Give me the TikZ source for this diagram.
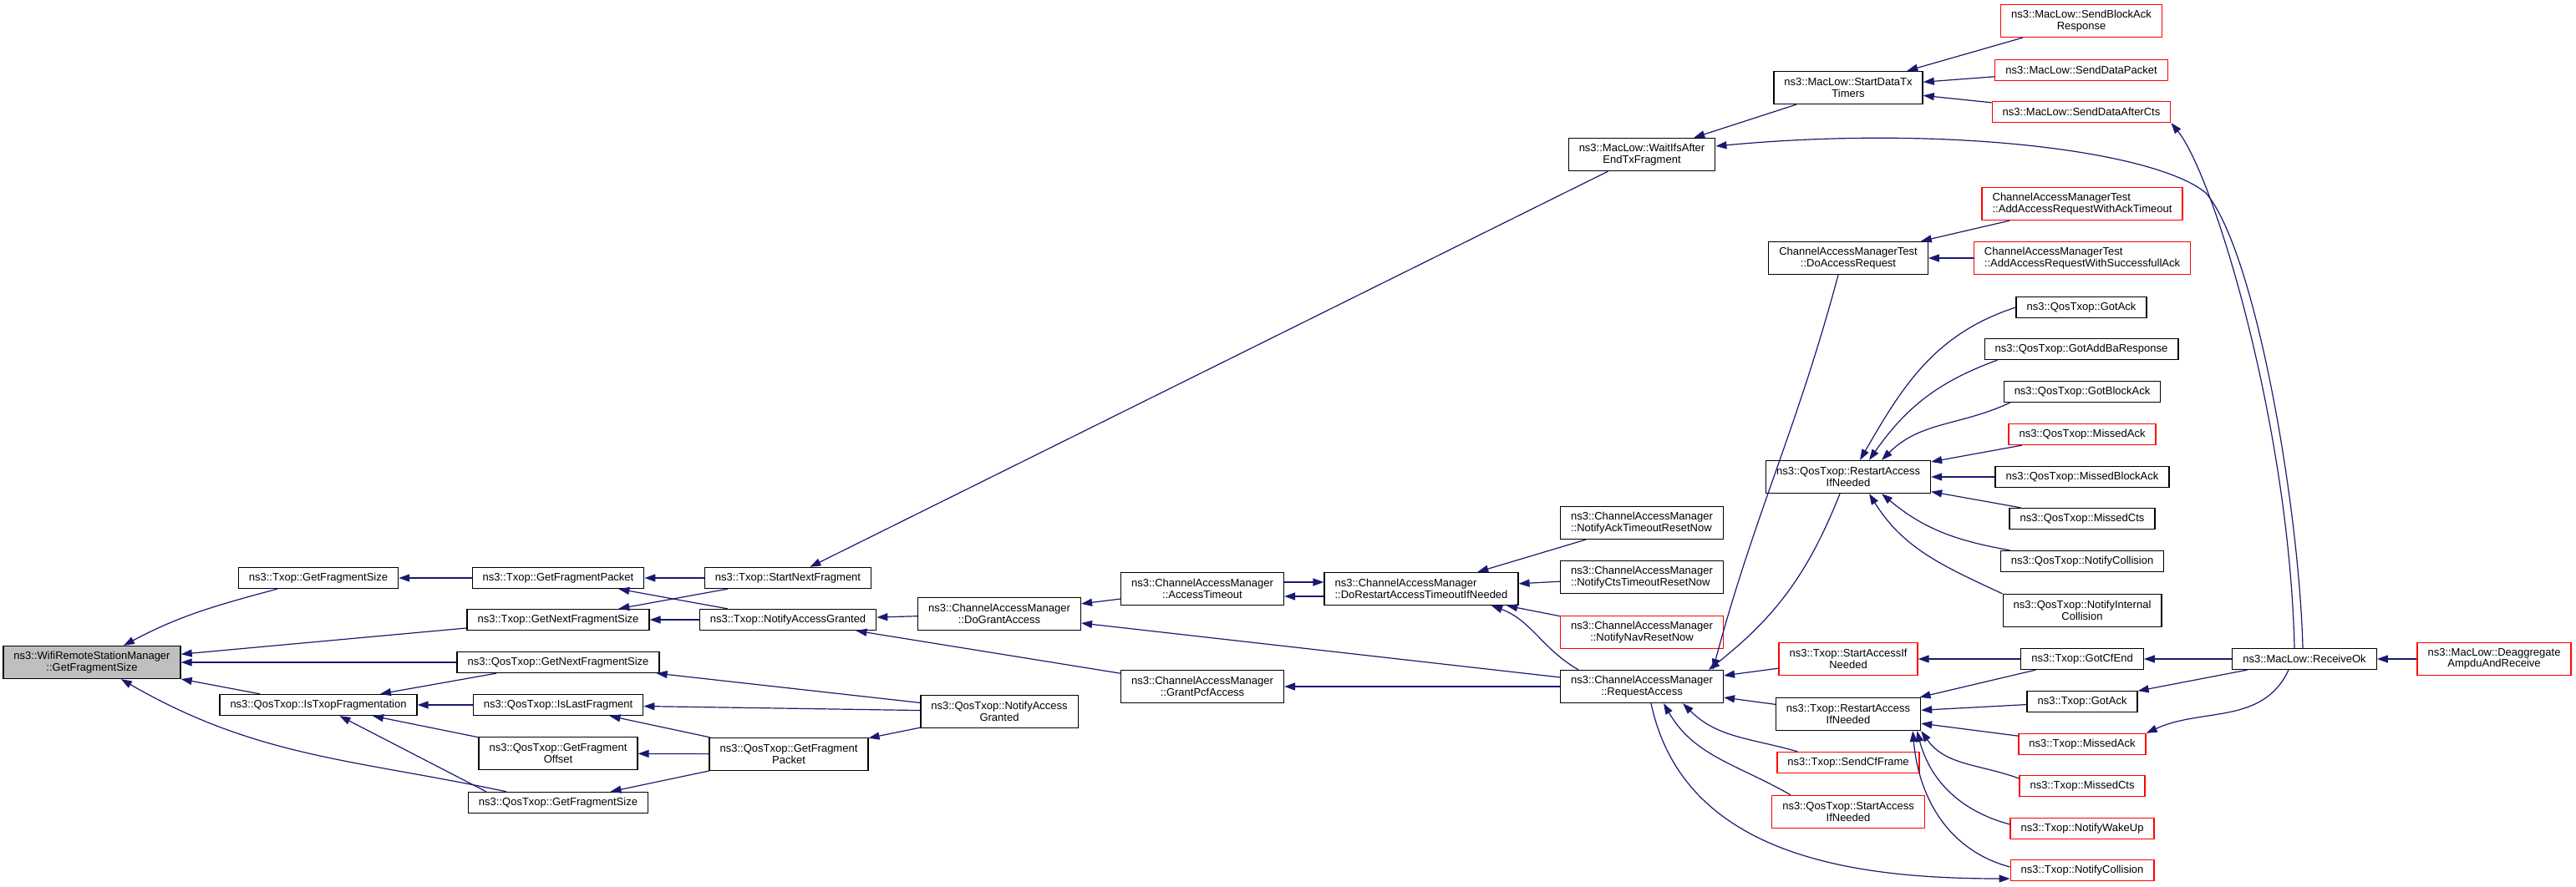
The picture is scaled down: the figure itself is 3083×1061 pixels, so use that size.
\documentclass[tikz,border=0pt]{standalone}
\usepackage{fontspec}
\setmainfont{Liberation Sans}
\usepackage{tikz}
\usetikzlibrary{shapes,arrows.meta,positioning}
\definecolor{edgeblue}{HTML}{191970}
\definecolor{maingray}{HTML}{BFBFBF}
\tikzstyle{fnode} = [rectangle, draw, line width=1.3pt, inner xsep=12.5pt, inner ysep=1pt, minimum height=25pt, align=center, font=\fontsize{13}{13.5}\selectfont]
\tikzstyle{dnode} = [fnode, minimum height=39pt]
\tikzstyle{lnode} = [dnode, align=left]
\tikzstyle{rnode} = [fnode, draw=red]
\tikzstyle{rdnode} = [dnode, draw=red]
\tikzstyle{rlnode} = [lnode, draw=red]
\tikzstyle{line} = [draw=edgeblue, line width=1.2pt, {Triangle[length=13pt,width=9pt]}-]

\begin{document}
\begin{tikzpicture}[x=1pt, y=1pt]
			\useasboundingbox (0,0) rectangle (3083,1061);
			\node [dnode, fill=maingray] (main) at (110,268) {ns3::WifiRemoteStationManager\\::GetFragmentSize};
			\node [fnode] (txGFS) at (381,369) {ns3::Txop::GetFragmentSize};
			\node [fnode] (qIsTF) at (381,217) {ns3::QosTxop::IsTxopFragmentation};
			\node [fnode] (txGFP) at (668,369) {ns3::Txop::GetFragmentPacket};
			\node [fnode] (txGNFS) at (668,319) {ns3::Txop::GetNextFragmentSize};
			\node [fnode] (qGNFS) at (668,268) {ns3::QosTxop::GetNextFragmentSize};
			\node [fnode] (qILF) at (668,217) {ns3::QosTxop::IsLastFragment};
			\node [dnode] (qGFO) at (668,159) {ns3::QosTxop::GetFragment\\Offset};
			\node [fnode] (qGFS) at (668,100) {ns3::QosTxop::GetFragmentSize};
			\node [fnode] (txSNF) at (943,369) {ns3::Txop::StartNextFragment};
			\node [fnode] (txNAG) at (943,319) {ns3::Txop::NotifyAccessGranted};
			\node [dnode] (qGFP) at (944,158) {ns3::QosTxop::GetFragment\\Packet};
			\node [dnode] (dga) at (1196,326) {ns3::ChannelAccessManager\\::DoGrantAccess};
			\node [dnode] (qNAG) at (1196,209) {ns3::QosTxop::NotifyAccess\\Granted};
			\node [dnode] (accto) at (1439,356) {ns3::ChannelAccessManager\\::AccessTimeout};
			\node [dnode] (gpa) at (1439,239) {ns3::ChannelAccessManager\\::GrantPcfAccess};
			\node [lnode] (drat) at (1701,356) {ns3::ChannelAccessManager\\::DoRestartAccessTimeoutIfNeeded};
			\node [dnode] (wifs) at (1965,876) {ns3::MacLow::WaitIfsAfter\\EndTxFragment};
			\node [lnode] (nato) at (1965,435) {ns3::ChannelAccessManager\\::NotifyAckTimeoutResetNow};
			\node [lnode] (ncto) at (1965,370) {ns3::ChannelAccessManager\\::NotifyCtsTimeoutResetNow};
			\node [rdnode] (nnav) at (1965,304) {ns3::ChannelAccessManager\\::NotifyNavResetNow};
			\node [dnode] (req) at (1965,239) {ns3::ChannelAccessManager\\::RequestAccess};
			\node [dnode] (sdtt) at (2212,956) {ns3::MacLow::StartDataTx\\Timers};
			\node [dnode] (dar) at (2212,752) {ChannelAccessManagerTest\\::DoAccessRequest};
			\node [dnode] (qrai) at (2212,490) {ns3::QosTxop::RestartAccess\\IfNeeded};
			\node [rdnode] (tsai) at (2212,272) {ns3::Txop::StartAccessIf\\Needed};
			\node [dnode] (trai) at (2212,206) {ns3::Txop::RestartAccess\\IfNeeded};
			\node [rnode] (tscf) at (2212,148) {ns3::Txop::SendCfFrame};
			\node [rdnode] (qsai) at (2212,89) {ns3::QosTxop::StartAccess\\IfNeeded};
			\node [rdnode] (sbar) at (2491,1036) {ns3::MacLow::SendBlockAck\\Response};
			\node [rnode] (sdp) at (2491,977) {ns3::MacLow::SendDataPacket};
			\node [rnode] (sdac) at (2491,927) {ns3::MacLow::SendDataAfterCts};
			\node [rlnode] (aato) at (2492,817) {ChannelAccessManagerTest\\::AddAccessRequestWithAckTimeout};
			\node [rlnode] (asa) at (2492,752) {ChannelAccessManagerTest\\::AddAccessRequestWithSuccessfullAck};
			\node [fnode] (qga) at (2491,693) {ns3::QosTxop::GotAck};
			\node [fnode] (qgab) at (2491,643) {ns3::QosTxop::GotAddBaResponse};
			\node [fnode] (qgba) at (2492,592) {ns3::QosTxop::GotBlockAck};
			\node [rnode] (qma) at (2492,541) {ns3::QosTxop::MissedAck};
			\node [fnode] (qmba) at (2492,490) {ns3::QosTxop::MissedBlockAck};
			\node [fnode] (qmc) at (2492,440) {ns3::QosTxop::MissedCts};
			\node [fnode] (qnc) at (2492,389) {ns3::QosTxop::NotifyCollision};
			\node [dnode] (qnic) at (2492,330) {ns3::QosTxop::NotifyInternal\\Collision};
			\node [fnode] (tgce) at (2492,272) {ns3::Txop::GotCfEnd};
			\node [fnode] (tga) at (2492,221) {ns3::Txop::GotAck};
			\node [rnode] (tma) at (2492,170) {ns3::Txop::MissedAck};
			\node [rnode] (tmc) at (2492,120) {ns3::Txop::MissedCts};
			\node [rnode] (tnw) at (2492,69) {ns3::Txop::NotifyWakeUp};
			\node [rnode] (tnc) at (2492,19) {ns3::Txop::NotifyCollision};
			\node [fnode] (rok) at (2758,272) {ns3::MacLow::ReceiveOk};
			\node [rdnode] (dear) at (2985,272) {ns3::MacLow::Deaggregate\\AmpduAndReceive};
			
			\path [line] (main) to[out=28,in=195] (txGFS);
			\path [line] (main) -- (txGNFS);
			\path [line] (main) -- (qGNFS);
			\path [line] (main) -- (qIsTF);
			\path [line] (main) to[out=-30,in=168] (qGFS);
			\path [line] (txGFS) -- (txGFP);
			\path [line] (txGFP) -- (txSNF);
			\path [line] (txGFP) -- (txNAG);
			\path [line] (txGNFS) -- (txSNF);
			\path [line] (txGNFS) -- (txNAG);
			\path [line] (qIsTF) -- (qGNFS);
			\path [line] (qIsTF) -- (qILF);
			\path [line] (qIsTF) -- (qGFO);
			\path [line] (qIsTF) -- ([xshift=-86pt]qGFS.north);
			\path [line] (txSNF) -- (wifs);
			\path [line] (txNAG) -- (dga);
			\path [line] (txNAG) -- (gpa);
			\path [line] (qGNFS) -- (qNAG);
			\path [line] (qILF) -- (qNAG);
			\path [line] (qILF) -- (qGFP);
			\path [line] (qGFO) -- (qGFP);
			\path [line] (qGFS) -- (qGFP);
			\path [line] (qGFP) -- (qNAG);
			\path [line] (dga) -- (accto);
			\path [line] (dga) -- (req);
			\path [line] ([yshift=8pt]drat.west) -- ([yshift=8pt]accto.east);
			\path [line] ([yshift=-9pt]accto.east) -- ([yshift=-9pt]drat.west);
			\path [line] (gpa) -- (req);
			\path [line] (drat) -- (nato);
			\path [line] (drat) -- (ncto);
			\path [line] (drat) -- (nnav);
			\path [line] ([xshift=84pt]drat.south) to[out=-20,in=150] ([xshift=-76pt]req.north);
			
			\path [line] (wifs) -- (sdtt);
			\path [line] ([yshift=10pt]wifs.east) .. controls (2330,912) and (2580,880) .. (2640,830) .. controls (2700,760) and (2752,450) .. ([xshift=-2pt]rok.north);
			\path [line] (sdtt) -- (sbar);
			\path [line] (sdtt) -- (sdp);
			\path [line] (sdtt) -- (sdac);
			\path [line] (sdac.south east) .. controls (2650,850) and (2740,550) .. ([xshift=-12pt]rok.north);
			\path [line] (dar) -- (aato);
			\path [line] (dar) -- (asa);
			\path [line] ([xshift=85pt]req.north) to[out=75,in=-105] ([xshift=-12pt]dar.south);
			\path [line] ([xshift=80pt]req.north) to[bend right=15] ([xshift=-10pt]qrai.south);
			
			\path [line] ([xshift=14pt]qrai.north) to[out=60,in=198] (qga.west);
			\path [line] ([xshift=25pt]qrai.north) to[out=55,in=200] ([xshift=16pt]qgab.south west);
			\path [line] ([xshift=40pt]qrai.north) to[out=45,in=205] ([xshift=8pt]qgba.south west);
			\path [line] (qrai) -- (qma);
			\path [line] (qrai) -- (qmba);
			\path [line] (qrai) -- (qmc);
			\path [line] ([xshift=40pt]qrai.south) to[out=-40,in=170] ([xshift=12pt]qnc.north west);
			\path [line] ([xshift=25pt]qrai.south) to[out=-58,in=155] (qnic.north west);
			
			\path [line] (req) -- (tsai);
			\path [line] (req) -- (trai);
			\path [line] ([xshift=49pt]req.south) to[out=-45,in=164] ([xshift=25pt]tscf.north west);
			\path [line] ([xshift=26pt]req.south) to[out=-60,in=150] ([xshift=23pt]qsai.north west);
			\path [line] ([yshift=-10pt]tnc.west) to[out=180,in=-78] ([xshift=11pt]req.south);
			\path [line] (trai) -- (tgce);
			\path [line] (trai) -- (tga);
			\path [line] (trai) -- (tma);
			\path [line] (trai.south east) to[out=-55,in=160] ([yshift=9pt]tmc.west);
			\path [line] ([xshift=-5pt]trai.south east) to[out=-75,in=165] ([yshift=5pt]tnw.west);
			\path [line] ([xshift=-10pt]trai.south east) to[out=-85,in=165] ([yshift=4pt]tnc.west);
			\path [line] (tsai) -- (tgce);
			\path [line] (tgce) -- (rok);
			\path [line] (tga) -- (rok);
			\path [line] (tma.north east) to[out=25,in=-115] ([xshift=-19pt]rok.south);
			\path [line] (rok) -- (dear);
		\end{tikzpicture}
\end{document}
